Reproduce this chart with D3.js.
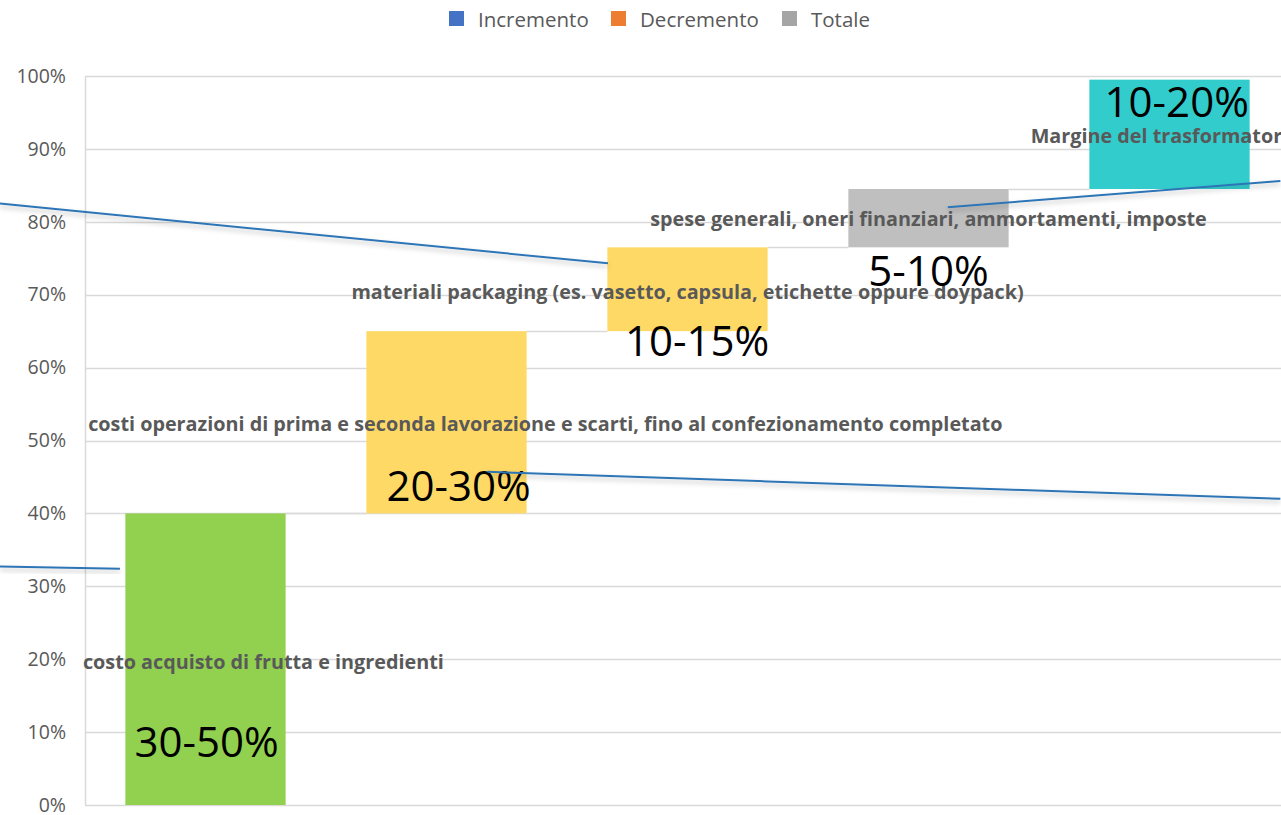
<!DOCTYPE html>
<html><head><meta charset="utf-8">
<script src="https://cdn.jsdelivr.net/npm/d3@7"></script>
<style>body{margin:0;background:#fff;overflow:hidden}svg{display:block}</style>
</head><body>
<svg id="c" width="1281" height="815"></svg>
<script>
// ---- data ----
const categories = [
  "costo acquisto di frutta e ingredienti",
  "costi operazioni di prima e seconda lavorazione e scarti, fino al confezionamento completato",
  "materiali packaging (es. vasetto, capsula, etichette oppure doypack)",
  "spese generali, oneri finanziari, ammortamenti, imposte",
  "Margine del trasformatore"
];
const barStart = [0, 40, 65, 76.5, 84.5];
const barEnd   = [40, 65, 76.5, 84.5, 99.5];
const valueLabels = ["30-50%", "20-30%", "10-15%", "5-10%", "10-20%"];
const barColors = ["#92D050", "#FFD966", "#FFD966", "#BFBFBF", "#33CCCC"];
// label anchors (category-index units, percent)
const catLabelX = [0.74, 1.91, 2.5, 3.5, 4.47];
const catLabelY = [19.7, 52.3, 70.5, 80.5, 91.9];
const valLabelX = [0.505, 1.55, 2.54, 3.5, 4.53];
const valLabelY = [8.8, 43.9, 63.9, 73.4, 96.7];
const yTicks = [0,10,20,30,40,50,60,70,80,90,100];
const legendItems = ["Incremento", "Decremento", "Totale"];
const legendColors = ["#4472C4", "#ED7D31", "#A5A5A5"];
// free-hand annotation lines (category-index units, percent)
const annoLines = [
  [[-0.353, 82.5], [2.17, 74.3]],
  [[-0.353, 32.7], [0.145, 32.4]],
  [[1.67, 45.7], [4.96, 42.0]],
  [[3.58, 82.0], [4.96, 85.6]]
];

// ---- chart ----
const svg = d3.select("#c");
const pLeft = 85, pRight = 1290, pTop = 76, pBottom = 805;
const idx = d3.range(categories.length);
const x = d3.scaleBand().domain(idx).range([pLeft, pRight]).paddingInner(0.335).paddingOuter(0.1675);
const xu = d3.scaleLinear().domain([0, categories.length]).range([pLeft, pRight]);
const y = d3.scaleLinear().domain([0, 100]).range([pBottom, pTop]);

const defs = svg.append("defs");
const f = defs.append("filter").attr("id","sh").attr("x","-5%").attr("y","-200%").attr("width","110%").attr("height","500%");
f.append("feDropShadow").attr("dx",0).attr("dy",3).attr("stdDeviation",2.5).attr("flood-color","#000").attr("flood-opacity",0.25);

// gridlines
svg.append("g").selectAll("line").data(yTicks).join("line")
  .attr("x1", pLeft).attr("x2", 1281).attr("y1", d => Math.round(y(d))+0.5).attr("y2", d => Math.round(y(d))+0.5)
  .attr("stroke", "#D9D9D9").attr("stroke-width", 1.5);
svg.append("line").attr("x1", pLeft+0.5).attr("x2", pLeft+0.5).attr("y1", y(100)).attr("y2", y(0))
  .attr("stroke", "#D9D9D9").attr("stroke-width", 1.5);

// y axis labels
const yAxis = d3.axisLeft(y).tickValues(yTicks).tickFormat(d => d + "%").tickSize(0).tickPadding(19);
const ga = svg.append("g").attr("transform", `translate(${pLeft},0)`).call(yAxis);
ga.select(".domain").remove();
ga.selectAll("text").attr("fill", "#595959").style("font-family", "'Open Sans', sans-serif").style("font-size", "19.5px");

// connectors
svg.append("g").selectAll("line").data(idx.slice(0, -1)).join("line")
  .attr("x1", i => x(i) + x.bandwidth()).attr("x2", i => x(i+1))
  .attr("y1", i => Math.round(y(barEnd[i]))+0.5).attr("y2", i => Math.round(y(barEnd[i]))+0.5)
  .attr("stroke", "#D9D9D9").attr("stroke-width", 1.5);

// bars
svg.append("g").selectAll("rect").data(idx).join("rect")
  .attr("x", i => x(i)).attr("width", x.bandwidth())
  .attr("y", i => y(barEnd[i])).attr("height", i => y(barStart[i]) - y(barEnd[i]))
  .attr("fill", i => barColors[i]);

// category labels
svg.append("g").selectAll("text").data(idx).join("text")
  .attr("x", i => xu(catLabelX[i])).attr("y", i => y(catLabelY[i]))
  .attr("text-anchor", "middle").attr("dominant-baseline", "central")
  .attr("fill", "#595959").style("font-family", "'Open Sans', sans-serif")
  .style("font-weight", "bold").style("font-size", "19.8px")
  .text(i => categories[i]);

// value labels
svg.append("g").selectAll("text").data(idx).join("text")
  .attr("x", i => xu(valLabelX[i])).attr("y", i => y(valLabelY[i]))
  .attr("text-anchor", "middle").attr("dominant-baseline", "central")
  .attr("fill", "#000").style("font-family", "'Open Sans', sans-serif")
  .style("font-size", "42px")
  .text(i => valueLabels[i]);

// annotation lines
const line = d3.line().x(d => xu(d[0])).y(d => y(d[1]));
svg.append("g").selectAll("path").data(annoLines).join("path")
  .attr("d", line).attr("fill", "none").attr("stroke", "#2E75B6").attr("stroke-width", 2)
  .attr("filter", "url(#sh)");

// legend
const lg = svg.append("g").attr("transform", "translate(449,11)");
const offs = [0, 162, 333];
legendItems.forEach((t, i) => {
  const g = lg.append("g").attr("transform", `translate(${offs[i]},0)`);
  g.append("rect").attr("width", 15).attr("height", 15).attr("fill", legendColors[i]);
  g.append("text").attr("x", 29).attr("y", 8).attr("dominant-baseline", "central")
    .attr("fill", "#595959").style("font-family", "'Open Sans', sans-serif").style("font-size", "20.5px").text(t);
});
</script>
</body></html>
